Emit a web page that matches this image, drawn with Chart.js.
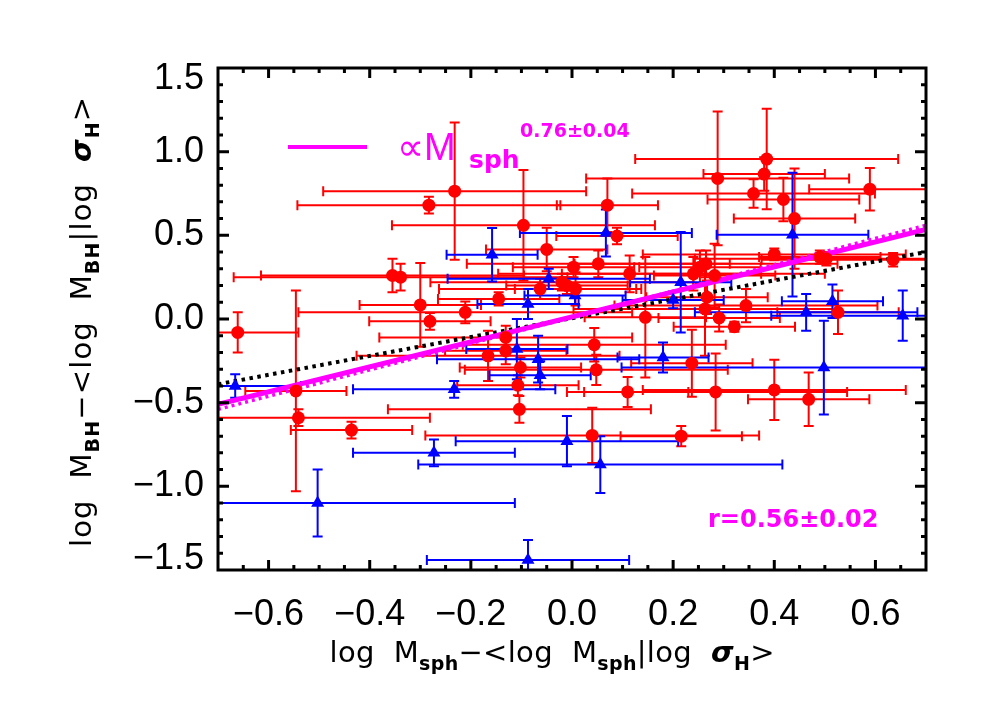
<!DOCTYPE html>
<html><head><meta charset="utf-8">
<script src="https://cdn.jsdelivr.net/npm/chart.js@4/dist/chart.umd.min.js"></script>
<style>html,body{margin:0;padding:0;background:#fff}#wrap{width:992px;height:708px}</style>
</head><body><div id="wrap"><canvas id="c" width="992" height="708"></canvas></div>
<script>
// ---------- data ----------
const redX    = [-0.661,-0.546,-0.541,-0.436,-0.232,-0.283,-0.096,-0.050,-0.355,-0.339,-0.300,-0.211,-0.281,-0.145,-0.063,0.003,-0.020,-0.010,-0.131,-0.166,-0.131,-0.102,-0.107,-0.104,0.288,0.385,0.380,0.359,0.418,0.440,0.589,0.070,0.089,0.052,0.114,0.145,0.240,0.253,0.265,0.282,0.267,0.263,0.291,0.321,0.344,0.400,0.490,0.503,0.635,0.526,0.044,0.007,0.048,0.110,0.237,0.284,0.400,0.468,0.040,0.216];
const redY    = [-0.080,-0.430,-0.590,-0.664,0.764,0.680,0.560,0.416,0.260,0.250,0.084,0.040,-0.014,0.120,0.180,0.310,0.220,0.200,-0.110,-0.220,-0.190,-0.290,-0.396,-0.540,0.840,0.956,0.866,0.750,0.714,0.600,0.776,0.680,0.496,0.330,0.270,0.010,0.270,0.310,0.330,0.260,0.130,0.060,0.006,-0.046,0.080,0.386,0.370,0.360,0.354,0.040,-0.154,0.180,-0.304,-0.436,-0.264,-0.436,-0.424,-0.480,-0.696,-0.700];
const redXErr = [0.12,0.10,0.26,0.12,0.26,0.26,0.26,0.12,0.26,0.33,0.12,0.33,0.12,0.12,0.20,0.12,0.26,0.12,0.25,0.26,0.12,0.12,0.12,0.26,0.26,0.26,0.12,0.24,0.15,0.12,0.12,0.10,0.12,0.26,0.26,0.12,0.26,0.12,0.26,0.12,0.12,0.26,0.12,0.12,0.26,0.26,0.12,0.26,0.26,0.12,0.26,0.12,0.26,0.12,0.12,0.26,0.26,0.12,0.33,0.12];
const redYErr = [0.12,0.60,0.05,0.05,0.41,0.05,0.33,0.13,0.10,0.08,0.25,0.065,0.05,0.04,0.06,0.06,0.05,0.05,0.07,0.15,0.08,0.06,0.06,0.08,0.40,0.30,0.10,0.085,0.13,0.30,0.127,0.16,0.05,0.08,0.11,0.36,0.10,0.10,0.08,0.19,0.10,0.28,0.08,0.03,0.10,0.035,0.04,0.04,0.04,0.13,0.10,0.10,0.09,0.09,0.20,0.23,0.18,0.16,0.165,0.06];

const blueX    = [-0.158,-0.046,-0.087,0.006,-0.109,0.067,0.436,0.215,0.200,0.463,0.515,0.654,-0.666,-0.067,-0.063,-0.233,-0.273,-0.010,-0.503,-0.087,0.180,0.498,0.056];
const blueY    = [0.384,0.240,0.090,0.140,-0.180,0.514,0.504,0.220,0.114,0.040,0.106,0.020,-0.400,-0.240,-0.336,-0.420,-0.800,-0.730,-1.100,-1.440,-0.230,-0.290,-0.870];
const blueXErr = [0.09,0.20,0.10,0.10,0.10,0.17,0.15,0.10,0.10,0.22,0.10,0.26,0.13,0.20,0.10,0.20,0.16,0.22,0.39,0.20,0.09,0.40,0.36];
const blueYErr = [0.16,0.06,0.09,0.05,0.18,0.14,0.37,0.30,0.05,0.11,0.10,0.15,0.07,0.14,0.084,0.05,0.08,0.15,0.20,0.12,0.09,0.28,0.17];

const fitX       = [-0.7, 0.7];
const fitSolidY  = [-0.510, 0.536];
const fitDottedY = [-0.540, 0.560];
const blackDotY  = [-0.390, 0.400];

const xTickVals   = [-0.6,-0.4,-0.2,0.0,0.2,0.4,0.6];
const xTickLabels = ['−0.6','−0.4','−0.2','0.0','0.2','0.4','0.6'];
const yTickVals   = [-1.5,-1.0,-0.5,0.0,0.5,1.0,1.5];
const yTickLabels = ['−1.5','−1.0','−0.5','0.0','0.5','1.0','1.5'];

const slopeText = '0.76±0.04';
const corrText  = 'r=0.56±0.02';

// ---------- styling ----------
const RED = '#ff0000', BLUE = '#0000ff', MAG = '#ff00ff';
const FONT = 'Liberation Sans';
const TFONT = '"DejaVu Sans"';
const yEdgeNudge = 0.066;   // outer y labels sit slightly inside the frame

function runParts(ctx, parts, spacing, draw, x0, y0) {
  let x = x0;
  parts.forEach(p => {
    ctx.font = p.font;
    for (const ch of p.t) {
      const w = ctx.measureText(ch).width;
      if (draw) ctx.fillText(ch, x, y0 + (p.dy || 0));
      x += w + spacing;
    }
  });
  return x - x0 - spacing;
}
function drawTitle(ctx, parts, cx, cy, targetW) {
  let n = 0; parts.forEach(p => n += [...p.t].length);
  const nat = runParts(ctx, parts, 0, false, 0, 0);
  const sp = (targetW - nat) / (n - 1);
  runParts(ctx, parts, sp, true, cx - targetW / 2, cy);
}

const errPlugin = {
  id: 'errbars',
  beforeDatasetsDraw(chart) {
    const {ctx, chartArea: a, scales: {x, y}} = chart;
    ctx.save();
    ctx.beginPath(); ctx.rect(a.left, a.top, a.right - a.left, a.bottom - a.top); ctx.clip();
    const cap = 5;
    function draw(xs, ys, xe, ye, col) {
      ctx.strokeStyle = col; ctx.lineWidth = 2;
      for (let i = 0; i < xs.length; i++) {
        const cx = x.getPixelForValue(xs[i]), cy = y.getPixelForValue(ys[i]);
        const x0 = x.getPixelForValue(xs[i] - xe[i]), x1 = x.getPixelForValue(xs[i] + xe[i]);
        const y0 = y.getPixelForValue(ys[i] - ye[i]), y1 = y.getPixelForValue(ys[i] + ye[i]);
        ctx.beginPath();
        ctx.moveTo(x0, cy); ctx.lineTo(x1, cy);
        ctx.moveTo(cx, y0); ctx.lineTo(cx, y1);
        ctx.moveTo(x0, cy - cap); ctx.lineTo(x0, cy + cap);
        ctx.moveTo(x1, cy - cap); ctx.lineTo(x1, cy + cap);
        ctx.moveTo(cx - cap, y0); ctx.lineTo(cx + cap, y0);
        ctx.moveTo(cx - cap, y1); ctx.lineTo(cx + cap, y1);
        ctx.stroke();
      }
    }
    draw(redX, redY, redXErr, redYErr, RED);
    draw(blueX, blueY, blueXErr, blueYErr, BLUE);
    ctx.restore();
  }
};

const framePlugin = {
  id: 'frame',
  afterDraw(chart) {
    const {ctx, chartArea: a, scales: {x, y}} = chart;
    ctx.save();
    ctx.strokeStyle = '#000'; ctx.lineWidth = 3;
    ctx.strokeRect(a.left, a.top, a.right - a.left, a.bottom - a.top);
    ctx.beginPath();
    for (let k = -13; k <= 13; k++) {
      const px = x.getPixelForValue(k * 0.05);
      const L = (k % 4 === 0) ? 10 : 5;
      ctx.moveTo(px, a.bottom); ctx.lineTo(px, a.bottom - L);
      ctx.moveTo(px, a.top); ctx.lineTo(px, a.top + L);
    }
    for (let k = -14; k <= 14; k++) {
      const py = y.getPixelForValue(k * 0.1);
      const L = (k % 5 === 0) ? 11 : 5;
      ctx.moveTo(a.left, py); ctx.lineTo(a.left + L, py);
      ctx.moveTo(a.right, py); ctx.lineTo(a.right - L, py);
    }
    ctx.stroke();

    // legend
    ctx.strokeStyle = MAG; ctx.lineWidth = 4;
    ctx.beginPath(); ctx.moveTo(288, 147); ctx.lineTo(367, 147); ctx.stroke();
    ctx.fillStyle = MAG; ctx.textBaseline = 'alphabetic'; ctx.textAlign = 'left';
    ctx.font = '38px ' + FONT; ctx.fillText('∝M', 397, 160);
    ctx.font = 'bold 25px ' + TFONT; ctx.fillText('sph', 469, 168);
    ctx.font = 'bold 19px ' + TFONT; ctx.fillText(slopeText, 520, 137);
    ctx.font = 'bold 24px ' + TFONT; ctx.fillText(corrText, 708, 527);

    // axis titles
    ctx.fillStyle = '#000';
    const main = '29px ' + TFONT, sub = 'bold 19px ' + TFONT, sig = 'bold italic 29px ' + TFONT;
    drawTitle(ctx, [
      {t: 'log  M', font: main}, {t: 'sph', font: sub, dy: 8},
      {t: '−<log  M', font: main}, {t: 'sph', font: sub, dy: 8},
      {t: '|log  ', font: main}, {t: 'σ', font: sig}, {t: 'H', font: sub, dy: 8},
      {t: '>', font: main}
    ], 552, 662, 445);
    ctx.save();
    ctx.translate(91, 322); ctx.rotate(-Math.PI / 2);
    drawTitle(ctx, [
      {t: 'log  M', font: main}, {t: 'BH', font: sub, dy: 8},
      {t: '−<log  M', font: main}, {t: 'BH', font: sub, dy: 8},
      {t: '|log  ', font: main}, {t: 'σ', font: sig}, {t: 'H', font: sub, dy: 8},
      {t: '>', font: main}
    ], 0, 0, 450);
    ctx.restore();
    ctx.restore();
  }
};

const pts = (xs, ys) => xs.map((v, i) => ({x: v, y: ys[i]}));

new Chart(document.getElementById('c'), {
  type: 'scatter',
  data: {datasets: [
    {label: 'red', data: pts(redX, redY), pointStyle: 'circle', pointRadius: 6.5, backgroundColor: RED, borderWidth: 0, order: 0},
    {label: 'blue', data: pts(blueX, blueY), pointStyle: 'triangle', pointRadius: 7.5, backgroundColor: BLUE, borderWidth: 0, order: 0},
    {type: 'line', label: 'fit dotted', data: pts(fitX, fitDottedY), borderColor: MAG, borderWidth: 3.5, borderDash: [3, 4], pointRadius: 0, fill: false, order: 2},
    {type: 'line', label: 'fit', data: pts(fitX, fitSolidY), borderColor: MAG, borderWidth: 5, pointRadius: 0, fill: false, order: 1},
    {type: 'line', label: 'black dotted', data: pts(fitX, blackDotY), borderColor: '#000', borderWidth: 4, borderDash: [3.5, 4.5], pointRadius: 0, fill: false, order: 1}
  ]},
  options: {
    responsive: false, animation: false, devicePixelRatio: 1,
    layout: {padding: {left: 0, top: 68, right: 66, bottom: 0}},
    plugins: {legend: {display: false}, tooltip: {enabled: false}},
    scales: {
      x: {
        type: 'linear', min: -0.7, max: 0.7,
        grid: {display: false, drawTicks: false}, border: {display: false},
        afterBuildTicks: s => { s.ticks = xTickVals.map(v => ({value: v})); },
        afterFit: s => { s.height = 138; },
        ticks: {font: {family: FONT, size: 36}, color: '#000', padding: 23, maxRotation: 0, autoSkip: false,
                callback: (v, i) => xTickLabels[i]}
      },
      y: {
        type: 'linear', min: -1.5, max: 1.5,
        grid: {display: false, drawTicks: false}, border: {display: false},
        afterBuildTicks: s => {
          const n = yTickVals.length;
          s.ticks = yTickVals.map((v, i) => ({value: i === 0 ? v + yEdgeNudge : (i === n - 1 ? v - yEdgeNudge : v)}));
        },
        afterFit: s => { s.width = 218; },
        ticks: {font: {family: FONT, size: 36}, color: '#000', padding: 14, autoSkip: false,
                callback: (v, i) => yTickLabels[i]}
      }
    }
  },
  plugins: [errPlugin, framePlugin]
});
</script>
</body></html>
